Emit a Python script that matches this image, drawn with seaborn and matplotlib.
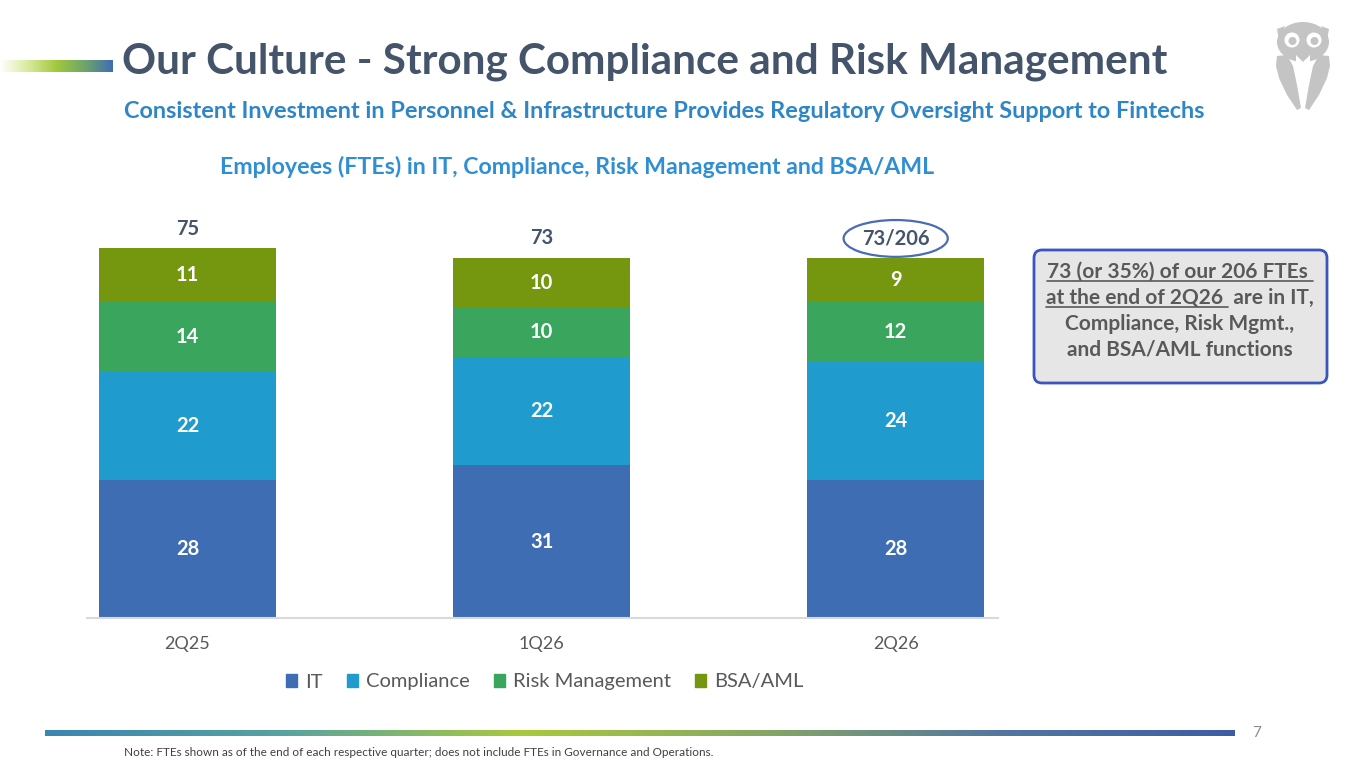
import numpy as np
import pandas as pd
import matplotlib
matplotlib.use('Agg')
import matplotlib.pyplot as plt
import seaborn as sns
from matplotlib.patches import Patch, FancyBboxPatch, Polygon, Circle, Ellipse
from matplotlib.colors import LinearSegmentedColormap

# data
quarters = ['2Q25', '1Q26', '2Q26']
it = [28, 31, 28]
compliance = [22, 22, 24]
risk_mgmt = [14, 10, 12]
bsa_aml = [11, 10, 9]
total_labels = ['75', '73', '73/206']
series_names = ['IT', 'Compliance', 'Risk Management', 'BSA/AML']
colors = ['#3F6DB4', '#1F9BCE', '#3AA55D', '#75960F']

callout_lines = ['73 (or 35%) of our 206 FTEs ', 'at the end of 2Q26  are in IT,',
                 'Compliance, Risk Mgmt.,', 'and BSA/AML functions']

sns.set_theme(style='white')
plt.rcParams['font.family'] = ['Lato', 'DejaVu Sans']

df = pd.DataFrame({'quarter': quarters, 'IT': it, 'Compliance': compliance,
                   'Risk Management': risk_mgmt, 'BSA/AML': bsa_aml})
stack = df[series_names].cumsum(axis=1)
totals = stack['BSA/AML']

W, H = 1365, 768
fig = plt.figure(figsize=(W / 100, H / 100), dpi=100)
fig.patch.set_facecolor('white')

# full-figure layer for slide decorations (pixel coords)
bg = fig.add_axes([0, 0, 1, 1])
bg.axis('off')

head_cmap = LinearSegmentedColormap.from_list('head', ['#FFFFFF', '#D8EA9C', '#A2C83C', '#6FA56A', '#3E6DB5'])
bg.imshow(np.linspace(0, 1, 256)[None, :], cmap=head_cmap, aspect='auto', extent=[0, 113, 72, 60])
foot_cmap = LinearSegmentedColormap.from_list('foot', ['#3A86B2', '#57A3A0', '#A9C93C', '#86A862', '#5477A0', '#3E5CA6'])
bg.imshow(np.linspace(0, 1, 512)[None, :], cmap=foot_cmap, aspect='auto', extent=[45, 1235, 736, 730])
bg.set_xlim(0, W)
bg.set_ylim(H, 0)

bg.text(122, 62, 'Our Culture - Strong Compliance and Risk Management', fontsize=30.4,
        fontweight='bold', color='#44546A', ha='left', va='center')
bg.text(124, 112, 'Consistent Investment in Personnel & Infrastructure Provides Regulatory Oversight Support to Fintechs',
        fontsize=16.9, fontweight='bold', color='#2E86C6', ha='left', va='center')
bg.text(577, 167, 'Employees (FTEs) in IT, Compliance, Risk Management and BSA/AML', fontsize=16.7,
        fontweight='bold', color='#2F8FD2', ha='center', va='center')
bg.text(1257, 733, '7', fontsize=11, color='#8C8C8C', ha='center', va='center')
bg.text(124, 752, 'Note: FTEs shown as of the end of each respective quarter; does not include FTEs in Governance and Operations.',
        fontsize=8.5, color='#404040', ha='left', va='center')

# owl logo
owl = '#C4C4C4'
bg.add_patch(Ellipse((1303, 42), 52, 40, fc=owl, ec='none'))
for side in (-1, 1):
    bg.add_patch(Polygon([(1303 + side * 18, 26), (1303 + side * 26, 29), (1303 + side * 24, 40)],
                         closed=True, fc=owl, ec='none'))
bg.add_patch(Polygon([(1296, 55), (1303, 62), (1310, 55), (1310, 64), (1296, 64)], closed=True, fc='white', ec='none'))
for ex in (1292, 1314):
    bg.add_patch(Circle((ex, 40), 7.5, fc='white', ec='none'))
    bg.add_patch(Circle((ex + 0.5, 41), 4, fc=owl, ec='none'))
wing = [(1277, 56), (1287, 55), (1293, 66), (1297, 85), (1301, 108), (1297, 110), (1287, 95),
        (1279, 78), (1276, 66)]
bg.add_patch(Polygon(wing, closed=True, fc=owl, ec='none'))
bg.add_patch(Polygon([(2606 - x, y) for x, y in wing], closed=True, fc=owl, ec='none'))

# callout box
bg.add_patch(FancyBboxPatch((1034, 250), 293, 133, boxstyle='round,pad=0,rounding_size=8',
                            fc='#E6E6E6', ec='#3A55C0', lw=2))
callout_texts = []
for k, line in enumerate(callout_lines):
    t = bg.text(1180, 272 + 26 * k, line, fontsize=15, fontweight='bold', color='#595959',
                ha='center', va='center')
    callout_texts.append(t)

# chart
ax = fig.add_axes([87 / W, 1 - 618 / H, (998 - 87) / W, (618 - 200) / H])
ax.patch.set_alpha(0)
for name, col in reversed(list(zip(series_names, colors))):
    sns.barplot(x=df['quarter'], y=stack[name], color=col, width=0.5, saturation=1,
                linewidth=0, ax=ax)
ax.set_xlim(-0.284, 2.289)
ax.set_ylim(0, 418 / 4.933)

for i in range(len(quarters)):
    prev = 0
    for name in series_names:
        v = df[name][i]
        ax.text(i, prev + v / 2, str(v), ha='center', va='center', color='white',
                fontsize=14.5, fontweight='bold')
        prev += v
    kw = {}
    if '/' in total_labels[i]:
        kw['bbox'] = dict(boxstyle='ellipse,pad=0.15', fc='none', ec='#4A6BB5', lw=1.6)
    ax.annotate(total_labels[i], (i, totals[i]), xytext=(0, 14), textcoords='offset points',
                ha='center', va='center', color='#44546A', fontsize=14.5, fontweight='bold', **kw)

sns.despine(ax=ax, left=True)
ax.spines['bottom'].set_color('#D9D9D9')
ax.spines['bottom'].set_linewidth(1.5)
ax.set_yticks([])
ax.set_xlabel('')
ax.set_ylabel('')
ax.tick_params(axis='x', length=0, pad=13, labelsize=13, labelcolor='#595959')

handles = [Patch(color=c, label=n) for n, c in zip(series_names, colors)]
fig.legend(handles=handles, loc='center', bbox_to_anchor=(545 / W, 1 - 682 / H), ncol=4,
           frameon=False, fontsize=14.5, handlelength=0.55, handleheight=0.6,
           handletextpad=0.4, columnspacing=1.2, labelcolor='#595959')

# underline the first part of the callout text
fig.canvas.draw()
r = fig.canvas.get_renderer()
inv = bg.transData.inverted()
b0 = callout_texts[0].get_window_extent(r)
x0, y0 = inv.transform((b0.x0, b0.y0))
x1, _ = inv.transform((b0.x1, b0.y0))
bg.plot([x0, x1], [y0 - 1, y0 - 1], color='#595959', lw=1.2)
b1 = callout_texts[1].get_window_extent(r)
tmp = bg.text(0, 0, 'at the end of 2Q26 ', fontsize=15, fontweight='bold')
wpart = tmp.get_window_extent(r).width
tmp.remove()
x0, y0 = inv.transform((b1.x0, b1.y0))
x1, _ = inv.transform((b1.x0 + wpart, b1.y0))
bg.plot([x0, x1], [y0 - 1, y0 - 1], color='#595959', lw=1.2)
bg.set_xlim(0, W)
bg.set_ylim(H, 0)

fig.savefig('out.png', dpi=100)
